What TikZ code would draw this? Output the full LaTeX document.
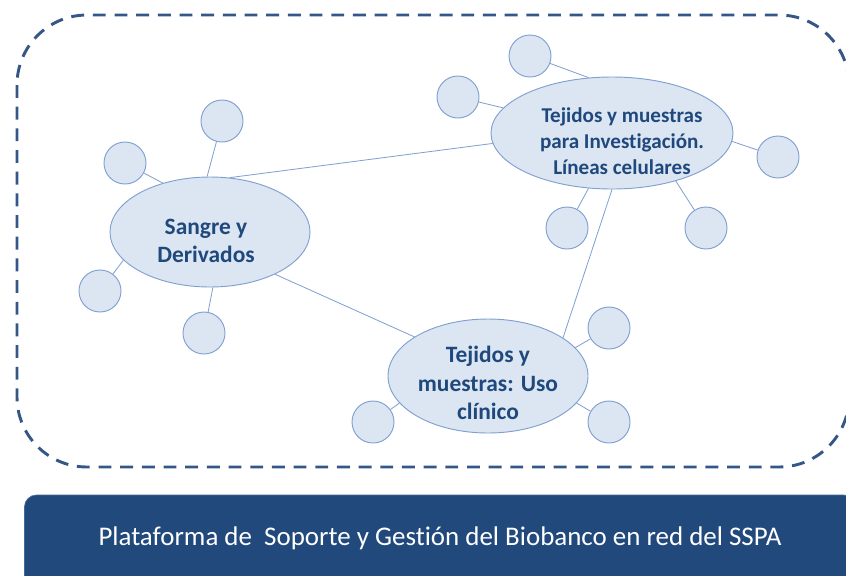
\documentclass[tikz,border=0pt]{standalone}
\usepackage{fontspec}
\setmainfont{Carlito}[Ligatures={NoCommon}]
\usetikzlibrary{shapes.geometric}
\usetikzlibrary{positioning}

\definecolor{nodefill}{RGB}{220,230,242}
\definecolor{nodeline}{RGB}{128,160,208}
\definecolor{textblue}{RGB}{31,73,125}
\definecolor{dashblue}{RGB}{52,87,135}
\definecolor{barblue}{RGB}{33,73,124}
\definecolor{barline}{RGB}{70,105,150}

\tikzset{
	hub/.style={ellipse, draw=nodeline, fill=nodefill, line width=0.8pt, inner sep=0pt},
	hubtext/.style={align=center, text=textblue, inner sep=0pt},
	leaf/.style={circle, draw=nodeline, fill=nodefill, line width=0.8pt, minimum size=1.26cm, inner sep=0pt},
	link/.style={draw=nodeline, line width=0.7pt},
	frame/.style={draw=dashblue, line width=2.5pt, dash pattern=on 11pt off 7.5pt, rounded corners=2.1cm},
	bar/.style={rectangle, draw=barline, fill=barblue, line width=0.6pt, rounded corners=0.36cm, minimum width=24.93cm, minimum height=3cm}
}

\begin{document}
\begin{tikzpicture}[x=0.03cm, y=-0.03cm]

	\useasboundingbox (0,0) rectangle (846,575);

	\draw[frame] (17,15) rectangle (849,467);

	\node[bar] (plat) at (440,545) {};
	\node[text=white, font=\fontsize{23}{27}\selectfont] (platlabel) at (440,538) {Plataforma de\ \ Soporte y Gestión del Biobanco en red del SSPA};

	\node[hub, minimum width=6cm, minimum height=3.3cm] (sangre) at (210,232) {};
	\node[hubtext, font=\bfseries\fontsize{20}{24}\selectfont] (sangrelabel) at (206,241) {Sangre y\\Derivados};
	\node[hub, minimum width=7.26cm, minimum height=3.36cm] (inv) at (612,133) {};
	\node[hubtext, font=\bfseries\fontsize{18}{22}\selectfont] (invlabel) at (622,141) {Tejidos y muestras\\para Investigación.\\ Líneas celulares};
	\node[hub, minimum width=6cm, minimum height=3.42cm] (uso) at (488,376) {};
	\node[hubtext, font=\bfseries\fontsize{20}{24.5}\selectfont] (usolabel) at (488,383) {Tejidos y\\muestras: Uso\\clínico};

	\node[leaf] (s1) at (222,121) {};
	\node[leaf] (s2) at (125,163) {};
	\node[leaf] (s3) at (100,291) {};
	\node[leaf] (s4) at (204,333) {};

	\node[leaf] (i1) at (530,56) {};
	\node[leaf] (i2) at (458,97) {};
	\node[leaf] (i3) at (778,157) {};
	\node[leaf] (i4) at (567,228) {};
	\node[leaf] (i5) at (706,228) {};

	\node[leaf] (u1) at (609,328) {};
	\node[leaf] (u2) at (609,422) {};
	\node[leaf] (u3) at (373,422) {};

	\draw[link] (sangre.70) -- (inv.185);
	\draw[link] (sangre.-33) -- (uso.152);
	\draw[link] (inv.270) -- (uso.27);

	\draw[link] (s1) -- (sangre.93);
	\draw[link] (s2) -- (sangre.134);
	\draw[link] (s3) -- (sangre.198);
	\draw[link] (s4) -- (sangre.-87);

	\draw[link] (i1) -- (inv.113);
	\draw[link] (i2) -- (inv.167);
	\draw[link] (i3) -- (inv.-4);
	\draw[link] (i4) -- (inv.247);
	\draw[link] (i5) -- (inv.-37);

	\draw[link] (u1) -- (uso.18);
	\draw[link] (u2) -- (uso.-17);
	\draw[link] (u3) -- (uso.197);

\end{tikzpicture}
\end{document}
